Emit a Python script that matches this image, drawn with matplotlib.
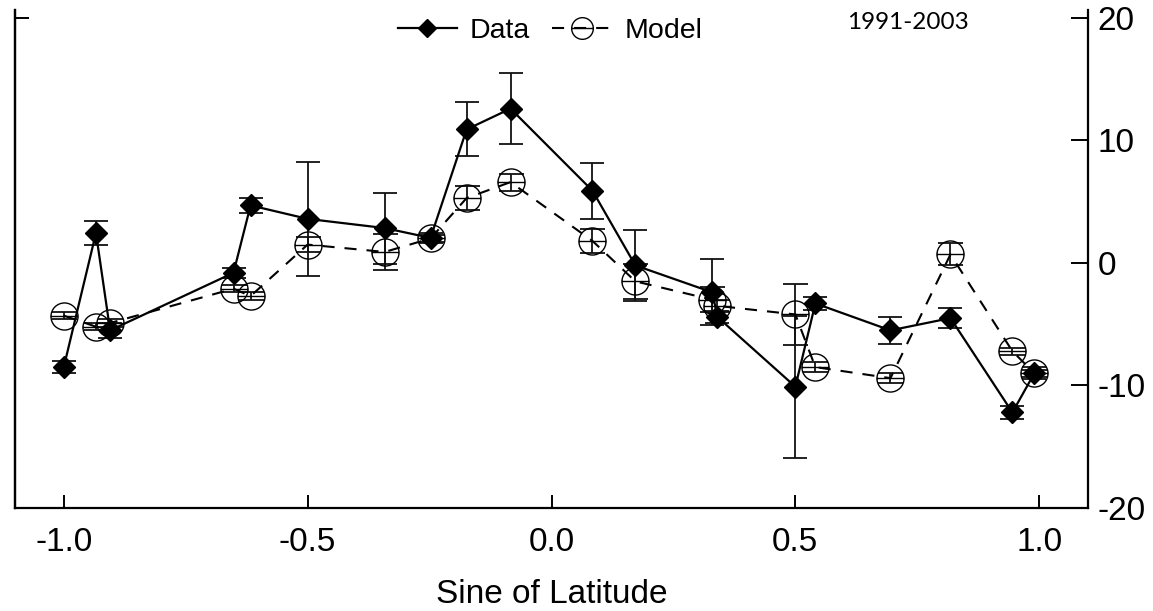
import numpy as np
import matplotlib
matplotlib.use('Agg')
import matplotlib.pyplot as plt
from matplotlib.path import Path

plt.rcParams['font.family'] = ['Liberation Sans', 'DejaVu Sans']

# values
sin_lat = [-1.0, -0.934, -0.905, -0.652, -0.617, -0.5, -0.342, -0.248, -0.174, -0.084,
           0.084, 0.172, 0.330, 0.340, 0.500, 0.541, 0.695, 0.818, 0.945, 0.990]
data = [-8.5, 2.45, -5.5, -0.8, 4.7, 3.6, 2.85, 2.05, 10.9, 12.6,
        5.9, -0.2, -2.4, -4.4, -10.1, -3.3, -5.5, -4.5, -12.2, -9.0]
data_err = [0.5, 1.0, 0.6, 0.4, 0.6, 4.65, 2.9, 0.4, 2.2, 2.9,
            2.3, 2.9, 2.7, 0.5, 5.8, 0.5, 1.1, 0.8, 0.5, 0.5]
model = [-4.3, -5.2, -4.9, -2.1, -2.7, 1.5, 0.9, 2.0, 5.3, 6.6,
         1.8, -1.5, -3.0, -3.5, -4.2, -8.5, -9.4, 0.7, -7.2, -9.0]
model_err = [0.3, 0.3, 0.3, 0.3, 0.3, 0.6, 1.5, 0.3, 1.0, 0.7,
             1.0, 1.4, 1.0, 0.5, 2.5, 0.4, 0.4, 0.9, 0.3, 0.3]

xticks = [-1.0, -0.5, 0.0, 0.5, 1.0]
xtick_labels = ['-1.0', '-0.5', '0.0', '0.5', '1.0']
yticks = [-20, -10, 0, 10, 20]
ytick_labels = ['-20', '-10', '0', '10', '20']

# circle with a bar through it, like the model symbol
theta = Path.make_compound_path(Path.unit_circle(),
                                Path([[-1, 0], [1, 0]], [Path.MOVETO, Path.LINETO]))

fig = plt.figure(figsize=(11.53, 6.11), dpi=100)
ax = fig.add_axes([15 / 1153, 1 - 508 / 611, 1073 / 1153, 498 / 611])

ax.errorbar(sin_lat, model, yerr=model_err, fmt='none', ecolor='#111111',
            elinewidth=1.3, capsize=9, capthick=1.3, zorder=2)
ax.errorbar(sin_lat, data, yerr=data_err, fmt='none', ecolor='#111111',
            elinewidth=1.3, capsize=8.5, capthick=1.3, zorder=2)
h_model, = ax.plot(sin_lat, model, ls=(0, (5.8, 4.8)), lw=1.5, color='black',
                   marker=theta, ms=19.5, mfc='none', mec='black', mew=1.0,
                   zorder=3)
h_data, = ax.plot(sin_lat, data, '-', lw=1.6, color='black', marker='D',
                  ms=11.5, zorder=4)

ax.set_xlim(-1.1, 1.1)
ax.set_ylim(-20, 20.65)
ax.spines['top'].set_visible(False)
for s in ['left', 'right', 'bottom']:
    ax.spines[s].set_linewidth(1.6)

ax.yaxis.tick_right()
ax.set_xticks(xticks, labels=xtick_labels)
ax.set_yticks(yticks, labels=ytick_labels)
ax.tick_params(axis='x', direction='in', length=9.5, width=1.4, labelsize=24, pad=14)
ax.tick_params(axis='y', direction='in', length=12, width=1.4, labelsize=24, pad=7,
               right=True, left=False)

sec = ax.secondary_yaxis('left')
sec.set_yticks([20], labels=[''])
sec.tick_params(direction='in', length=10, width=1.4)
sec.spines['left'].set_linewidth(1.6)

ax.set_xlabel('Sine of Latitude', fontsize=24, labelpad=15)

fig.legend(handles=[h_data, h_model], labels=['Data', 'Model'], loc='center',
           bbox_to_anchor=(550 / 1153, 1 - 31 / 611), ncol=2, frameon=False,
           fontsize=20.5, handlelength=2.07, handletextpad=0.46,
           columnspacing=0.77, markerscale=0.8, borderpad=0, borderaxespad=0)

fig.text(847 / 1153, 1 - 22.5 / 611, '1991-2003', fontsize=17.5,
         family=['Lato', 'DejaVu Sans'], ha='left', va='center')

fig.savefig('out.png', dpi=100)
